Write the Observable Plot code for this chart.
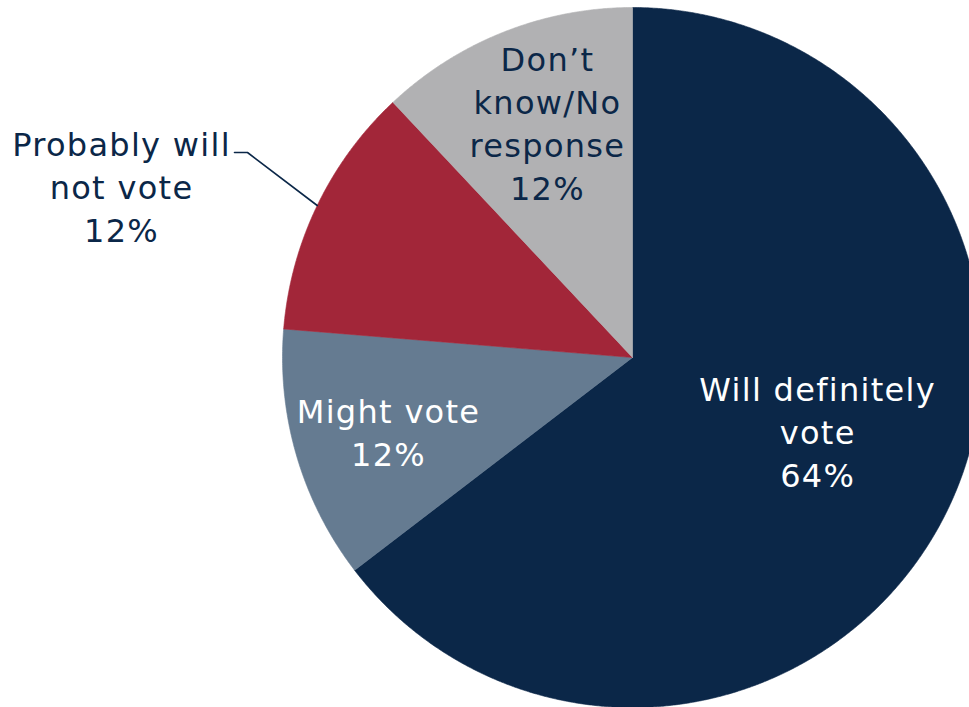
<!DOCTYPE html>
<html>
<head>
<meta charset="utf-8">
<script src="https://cdn.jsdelivr.net/npm/d3@7"></script>
<script src="https://cdn.jsdelivr.net/npm/@observablehq/plot@0.6"></script>
<style>
  html, body { margin: 0; padding: 0; background: #ffffff; }
  #chart { width: 969px; height: 707px; overflow: hidden; }
  #chart svg text { letter-spacing: 1.3px; }
</style>
</head>
<body>
<div id="chart"></div>
<script>
// ---- data ----
const categories = ["Will definitely vote", "Might vote", "Probably will not vote", "Don’t know/No response"];
const shares = [64.6, 11.7, 11.7, 12.0];          // slice sizes
const shareLabels = ["64%", "12%", "12%", "12%"];  // printed labels
const labelLines = [
  ["Will definitely", "vote"],
  ["Might vote"],
  ["Probably will", "not vote"],
  ["Don’t", "know/No", "response"]
];
const sliceColors = ["#0b2748", "#657b91", "#a22639", "#b1b1b3"];
const textColors = ["#ffffff", "#ffffff", "#0b2748", "#0b2748"];

// ---- layout (pixels -> unit coordinates) ----
const W = 969, H = 707, cx = 632, cy = 357, R = 350;
// label anchor points in unit coordinates (radius = 1), x right, y up
const labelAnchors = [
  [0.529, -0.209],
  [-0.697, -0.209],
  [-1.46, 0.491],
  [-0.243, 0.674]
];

const pie = d3.pie().sort(null).value(d => d.value).startAngle(0).endAngle(2 * Math.PI);
const rows = categories.map((c, i) => ({category: c, value: shares[i], i}));
const arcs = pie(rows);

// polygon points for each slice
const slicePts = [];
for (const a of arcs) {
  const n = Math.max(2, Math.ceil((a.endAngle - a.startAngle) / 0.005));
  slicePts.push({category: a.data.category, x: 0, y: 0});
  for (let k = 0; k <= n; k++) {
    const t = a.startAngle + (a.endAngle - a.startAngle) * k / n;
    slicePts.push({category: a.data.category, x: Math.sin(t), y: Math.cos(t)});
  }
  slicePts.push({category: a.data.category, x: 0, y: 0});
}

// labels
const labels = arcs.map((a, i) => ({
  category: a.data.category,
  text: labelLines[i].join("\n") + "\n" + shareLabels[i],
  x: labelAnchors[i][0],
  y: labelAnchors[i][1],
  color: textColors[i]
}));

// leader line for the outside label (Probably will not vote)
const outIdx = 2;
const midA = (arcs[outIdx].startAngle + arcs[outIdx].endAngle) / 2;
const leader = [
  {x: Math.sin(midA), y: Math.cos(midA)},
  {x: (247 - cx) / R, y: (cy - 152) / R},
  {x: (234 - cx) / R, y: (cy - 152) / R}
];

const chart = Plot.plot({
  width: W,
  height: H,
  margin: 0,
  x: {domain: [-cx / R, (W - cx) / R], axis: null},
  y: {domain: [-(H - cy) / R, cy / R], axis: null},
  color: {domain: categories, range: sliceColors},
  style: {background: "#ffffff", fontFamily: "'DejaVu Sans', sans-serif"},
  marks: [
    Plot.line(slicePts, {x: "x", y: "y", z: "category", fill: "category", stroke: "category", strokeWidth: 0.6, curve: "linear"}),
    Plot.line(leader, {x: "x", y: "y", stroke: "#0b2748", strokeWidth: 1.6}),
    Plot.text(labels, {x: "x", y: "y", text: "text", fill: d => d.color, fontSize: 32, lineHeight: 1.34, textAnchor: "middle"})
  ]
});
document.getElementById("chart").appendChild(chart);
</script>
</body>
</html>
